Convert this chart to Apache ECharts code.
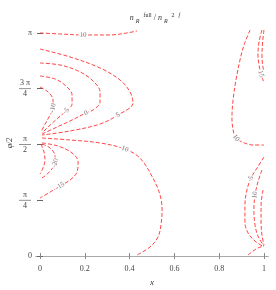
<!DOCTYPE html>
<html><head><meta charset="utf-8">
<script src="https://cdn.jsdelivr.net/npm/echarts@6/dist/echarts.min.js"></script>
<style>html,body{margin:0;padding:0;background:#fff}#c{width:276px;height:290px}</style>
</head><body><div id="c"></div>
<script>
// ---- tick data ----
const xTicks = [0, 0.2, 0.4, 0.6, 0.8, 1];
const xTickLabels = ['0', '0.2', '0.4', '0.6', '0.8', '1'];
const yTicks = [0, Math.PI / 4, Math.PI / 2, 3 * Math.PI / 4, Math.PI];
const yTickLabels = ['0', '{n|π}\n{bar|}\n{d|4}', '{n|π}\n{bar|}\n{d|2}', '{n|3 π}\n{bar|}\n{d|4}', 'π'];

// ---- contour curves (x, φ/2) ----
const c10top = [[0,3.141],[0.089,3.127],[0.192,3.113],[0.313,3.113],[0.388,3.141],[0.433,3.169]];
const c5 = [[0,2.915],[0.134,2.803],[0.268,2.648],[0.357,2.479],[0.402,2.310],[0.415,2.155],[0.348,1.986],[0.268,1.859],[0.134,1.761],[0.009,1.704]];
const c0 = [[0,2.718],[0.089,2.690],[0.170,2.606],[0.232,2.479],[0.268,2.310],[0.268,2.169],[0.237,2.056],[0.205,2.014],[0.143,1.915],[0.067,1.803],[0.009,1.718]];
const cm5 = [[0,2.535],[0.067,2.493],[0.116,2.394],[0.143,2.268],[0.143,2.141],[0.116,2.042],[0.080,1.944],[0.036,1.817],[0.009,1.732]];
const cm10 = [[0,2.380],[0.036,2.310],[0.058,2.197],[0.058,2.085],[0.040,1.958],[0.018,1.831],[0.004,1.746]];
const c10mid = [[0.009,1.662],[0.134,1.634],[0.268,1.592],[0.379,1.507],[0.446,1.380],[0.504,1.099],[0.536,0.859],[0.545,0.648],[0.540,0.437],[0.527,0.268],[0.491,0.127],[0.433,0.014]];
const cm25 = [[0.004,1.577],[0.018,1.465],[0.022,1.352],[0.013,1.239],[0,1.155]];
const cm20 = [[0.009,1.577],[0.045,1.521],[0.067,1.408],[0.067,1.310],[0.049,1.211],[0.022,1.127],[0,1.085]];
const cm15 = [[0.009,1.592],[0.080,1.549],[0.143,1.451],[0.170,1.324],[0.165,1.183],[0.134,1.070],[0.089,0.986],[0.045,0.901],[0,0.817]];
const c10R = [[0.938,3.183],[0.911,2.972],[0.893,2.761],[0.875,2.479],[0.862,2.197],[0.857,1.944],[0.862,1.775],[0.875,1.662],[0.902,1.606],[0.951,1.563],[1,1.563]];
const c15R = [[0.991,3.183],[0.978,3.014],[0.973,2.831],[0.978,2.690],[0.987,2.563],[1,2.437]];
const c20R = [[1,3.183],[0.994,3.014],[0.991,2.831],[0.994,2.690],[1,2.592]];
const c5R = [[1,1.394],[0.969,1.239],[0.942,1.099],[0.924,0.930],[0.915,0.718],[0.915,0.479],[0.929,0.324],[0.960,0.211],[1,0.127]];
const c10R2 = [[0.991,1.211],[0.973,1.042],[0.960,0.859],[0.955,0.648],[0.960,0.437],[0.973,0.282],[1,0.141]];
const c15R2 = [[0.996,0.930],[0.987,0.718],[0.987,0.479],[0.991,0.296],[1,0.155]];
const cBR = [[0.929,0.014],[0.951,0.070],[0.973,0.113],[1,0.141]];

const curves = [c10top, c5, c0, cm5, cm10, c10mid, cm25, cm20, cm15, c10R, c15R, c20R, c5R, c10R2, c15R2, cBR];

// ---- contour labels: which curve, which vertex, text ----
const labelCurve = [c10top, c5, c0, cm5, cm10, c10mid, cm20, cm15, c10R, c15R, c5R, c10R2];
const labelIndex = [2, 6, 7, 5, 3, 3, 3, 6, 7, 4, 2, 2];
const labelText = ['10', '5', '0', '-5', '-10', '10', '-20', '-15', '10', '15', '5', '10'];

const serif = '"Liberation Serif","DejaVu Serif",serif';
const axisGray = '#8a8a8a';
const red = '#ff3030';

function tickLabel(list, labels) {
  return function (v) {
    for (let i = 0; i < list.length; i++) if (Math.abs(list[i] - v) < 1e-6) return labels[i];
    return '';
  };
}

const chart = echarts.init(document.getElementById('c'), null, { renderer: 'canvas' });

const lineSeries = curves.map(function (c) {
  return {
    type: 'line', data: c, smooth: 0.35, showSymbol: false, silent: true,
    clip: false, animation: false,
    lineStyle: { color: red, width: 0.9, type: [4, 2] }
  };
});

const yRich = {
  n: { fontFamily: serif, fontSize: 8, color: '#444', width: 14, align: 'center', lineHeight: 9 },
  d: { fontFamily: serif, fontSize: 8, color: '#444', width: 14, align: 'center', lineHeight: 9 },
  bar: { width: 12, height: 0.8, lineHeight: 2, backgroundColor: '#777', align: 'center' }
};

const tBase = { fontFamily: serif, fontWeight: 'normal', color: '#333', lineHeight: 14 };
const option = {
  animation: false,
  backgroundColor: '#fff',
  title: {
    text: '{i|n}{sub|R}{sup|full}{t|/ }{i|n}{sub|R}{sup|2}{supi|f}',
    left: 150, top: 6, textAlign: 'center',
    textStyle: {
      fontWeight: 'normal',
      rich: {
        i: Object.assign({}, tBase, { fontStyle: 'italic', fontSize: 8 }),
        t: Object.assign({}, tBase, { fontSize: 8, padding: [0, 0, 0, 2] }),
        sub: Object.assign({}, tBase, { fontStyle: 'italic', fontSize: 6, padding: [6, 2, 0, 2] }),
        sup: Object.assign({}, tBase, { fontSize: 6, padding: [0, 0, 6, 2] }),
        supi: Object.assign({}, tBase, { fontStyle: 'italic', fontSize: 6, padding: [0, 0, 6, 4] })
      }
    }
  },
  grid: { left: 36, right: 8, top: 27, bottom: 31, containLabel: false, outerBoundsMode: 'none' },
  xAxis: [
    {
      type: 'value', min: -0.018, max: 1.018, position: 'bottom',
      name: 'x', nameLocation: 'middle', nameGap: 19, nameMoveOverlap: false,
      nameTextStyle: { fontFamily: serif, fontStyle: 'italic', fontSize: 9, color: '#333' },
      axisLine: { show: true, lineStyle: { color: axisGray, width: 1 } },
      axisTick: { show: true, inside: true, length: 3, customValues: xTicks, lineStyle: { color: axisGray } },
      axisLabel: { show: true, customValues: xTicks, margin: 6, fontFamily: serif, fontSize: 8, color: '#444', formatter: tickLabel(xTicks, xTickLabels) },
      splitLine: { show: false }
    },
    {
      type: 'value', min: -0.018, max: 1.018, position: 'top',
      axisLine: { show: true, lineStyle: { color: '#aaa', width: 1 } },
      axisTick: { show: true, inside: true, length: 3, customValues: xTicks, lineStyle: { color: axisGray } },
      axisLabel: { show: false }, splitLine: { show: false }
    }
  ],
  yAxis: [
    {
      type: 'value', min: -0.042, max: 3.225, position: 'left',
      name: 'φ/2', nameLocation: 'middle', nameGap: 22, nameRotate: 90, nameMoveOverlap: false,
      nameTextStyle: { fontFamily: serif, fontStyle: 'italic', fontSize: 8, color: '#333' },
      axisLine: { show: false },
      axisTick: { show: true, inside: true, length: 3, customValues: yTicks, lineStyle: { color: '#666' } },
      axisLabel: { show: true, customValues: yTicks, margin: 4, fontFamily: serif, fontSize: 8, color: '#444', rich: yRich, formatter: tickLabel(yTicks, yTickLabels) },
      splitLine: { show: false }
    },
    {
      type: 'value', min: -0.042, max: 3.225, position: 'right',
      axisLine: { show: false },
      axisTick: { show: true, inside: true, length: 3, customValues: yTicks, lineStyle: { color: '#666' } },
      axisLabel: { show: false }, splitLine: { show: false }
    }
  ],
  series: lineSeries
};
chart.setOption(option);

// contour labels rotated along their curve
const labelData = labelCurve.map(function (c, k) {
  const i = labelIndex[k];
  const a = chart.convertToPixel({ gridIndex: 0 }, c[Math.max(0, i - 1)]);
  const b = chart.convertToPixel({ gridIndex: 0 }, c[Math.min(c.length - 1, i + 1)]);
  let ang = -Math.atan2(b[1] - a[1], b[0] - a[0]) * 180 / Math.PI;
  if (ang > 90) ang -= 180;
  if (ang < -90) ang += 180;
  return {
    value: c[i],
    label: { show: true, formatter: labelText[k], rotate: ang }
  };
});

chart.setOption({
  series: lineSeries.concat([{
    type: 'scatter', data: labelData, symbolSize: 0, silent: true, z: 5,
    label: {
      show: true, position: 'inside', fontFamily: serif, fontSize: 7, color: '#555',
      backgroundColor: '#fff', padding: [0, 1]
    }
  }])
});
</script></body></html>
